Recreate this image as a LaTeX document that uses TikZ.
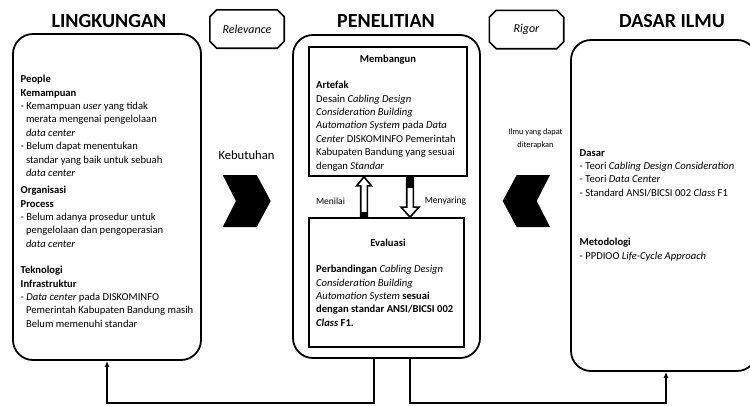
\documentclass[tikz,border=0pt]{standalone}
\usepackage{fontspec}
\setmainfont{Carlito}
\usetikzlibrary{arrows.meta,calc}

% continuation indent for bulleted lines
\newcommand{\ind}{\hspace*{5.3pt}}
% outline with cut corners around a named tag node
\newcommand{\cutframe}[2]{%
  \draw[tagline] ($(#1.north west)+(#2,0)$) -- ($(#1.north east)+(-#2,0)$)
    -- ($(#1.north east)+(0,#2)$) -- ($(#1.south east)+(0,-#2)$)
    -- ($(#1.south east)+(-#2,0)$) -- ($(#1.south west)+(#2,0)$)
    -- ($(#1.south west)+(0,-#2)$) -- ($(#1.north west)+(0,#2)$) -- cycle;}

\begin{document}
\begin{tikzpicture}[x=1pt,y=-1pt,
  box/.style={draw, line width=1.8pt, rounded corners=20pt, inner sep=0pt},
  inbox/.style={draw, line width=1.8pt, inner sep=0pt},
  tag/.style={inner sep=0pt, minimum width=74pt, minimum height=38pt,
    font=\fontsize{12}{14}\selectfont\itshape},
  tagline/.style={line width=1.6pt, line join=miter},
  title/.style={font=\fontsize{20}{24}\selectfont\bfseries, inner sep=0pt},
  body/.style={font=\fontsize{10.6}{13.4}\selectfont, align=left,
    anchor=north west, inner sep=0pt},
  head/.style={font=\fontsize{10.6}{13.4}\selectfont\bfseries, inner sep=0pt},
  lbl/.style={inner sep=0pt, align=center},
  conn/.style={line width=1.4pt},
  tip/.style={-{Latex[length=6pt,width=5pt]}},
  chev/.style={fill=black},
  hollow/.style={draw, line width=1.6pt, fill=white, line join=miter},
]
\useasboundingbox (0,0) rectangle (750,405);

% ---------- titles ----------
\node[title] (tl) at (109,21) {LINGKUNGAN};
\node[title] (tm) at (386,21) {PENELITIAN};
\node[title] (tr) at (672,21) {DASAR ILMU};

\node[tag] (rel) at (247,29) {Relevance};
\node[tag] (rig) at (526.5,29.5) {Rigor};
\cutframe{rel}{7}
\cutframe{rig}{7}

% ---------- main boxes ----------
\node[box, minimum width=188pt, minimum height=326pt] (lk) at (107,197) {};
\node[box, minimum width=187pt, minimum height=323pt] (pn) at (386.5,196.5) {};
\node[box, minimum width=186pt, minimum height=331pt] (di) at (664,205.5) {};

\node[inbox, minimum width=158pt, minimum height=129pt] (mb) at (388,111.5) {};
\node[inbox, minimum width=155pt, minimum height=129pt] (ev) at (386.5,282.5) {};

% ---------- left box text ----------
\node[body] (lk1) at (20.5,75) {\textbf{People}\\
\textbf{Kemampuan}\\
- Kemampuan \textit{user} yang tidak\\
\ind merata mengenai pengelolaan\\
\ind \textit{data center}\\
- Belum dapat menentukan\\
\ind standar yang baik untuk sebuah\\
\ind \textit{data center}};

\node[body] (lk2) at (20.5,186) {\textbf{Organisasi}\\
\textbf{Process}\\
- Belum adanya prosedur untuk\\
\ind pengelolaan dan pengoperasian\\
\ind \textit{data center}};

\node[body] (lk3) at (20.5,266) {\textbf{Teknologi}\\
\textbf{Infrastruktur}\\
- \textit{Data center} pada DISKOMINFO\\
\ind Pemerintah Kabupaten Bandung masih\\
\ind Belum memenuhi standar};

% ---------- middle box text ----------
\node[head] (mbt) at (388,60) {Membangun};
\node[body] (mbx) at (316,81) {\textbf{Artefak}\\
Desain \textit{Cabling Design}\\
\textit{Consideration Building}\\
\textit{Automation System} pada \textit{Data}\\
\textit{Center} DISKOMINFO Pemerintah\\
Kabupaten Bandung yang sesuai\\
dengan \textit{Standar}};

\node[head] (evt) at (388,243) {Evaluasi};
\node[body] (evx) at (316,265) {\textbf{Perbandingan} \textit{Cabling Design}\\
\textit{Consideration Building}\\
\textit{Automation System} \textbf{sesuai}\\
\textbf{dengan standar ANSI/BICSI 002}\\
\textbf{\textit{Class} F1.}};

% ---------- right box text ----------
\node[body] (di1) at (579.5,149) {\textbf{Dasar}\\
- Teori \textit{Cabling Design Consideration}\\
- Teori \textit{Data Center}\\
- Standard ANSI/BICSI 002 \textit{Class} F1};

\node[body] (di2) at (579.5,238) {\textbf{Metodologi}\\
- PPDIOO \textit{Life-Cycle Approach}};

% ---------- side labels ----------
\node[lbl, font=\fontsize{12.6}{15}\selectfont] (keb) at (246.5,155) {Kebutuhan};
\node[lbl, font=\fontsize{8.3}{12.5}\selectfont] (ilm) at (535.5,139) {Ilmu yang dapat\\diterapkan};
\node[lbl, font=\fontsize{9.5}{12}\selectfont] (mnl) at (330.5,201.5) {Menilai};
\node[lbl, font=\fontsize{9.5}{12}\selectfont] (mny) at (445.5,201.5) {Menyaring};

% ---------- chevrons ----------
\fill[chev] (222.7,175) -- (256.7,175) -- (270.7,201) -- (256.7,227)
  -- (222.7,227) -- (236,201) -- cycle;
\fill[chev] (550,175) -- (516.7,175) -- (502.7,201) -- (516.7,227)
  -- (550,227) -- (536.7,201) -- cycle;

% ---------- block arrows between the inner boxes ----------
\coordinate (ua) at (364,0);
\coordinate (da) at (410,0);
% upward arrow (Menilai)
\draw[hollow] (ua |- mb.south) -- ($(ua |- mb.south)+(7.5,9)$)
  -- ($(ua |- mb.south)+(3.3,9)$) -- ($(ua |- ev.north)+(3.3,0)$)
  -- ($(ua |- ev.north)+(-3.3,0)$) -- ($(ua |- mb.south)+(-3.3,9)$)
  -- ($(ua |- mb.south)+(-7.5,9)$) -- cycle;
\fill ($(ua |- ev.north)+(-4.1,-5)$) rectangle ($(ua |- ev.north)+(4.1,0)$);
% downward arrow (Menyaring)
\draw[hollow] (da |- ev.north) -- ($(da |- ev.north)+(9,-10)$)
  -- ($(da |- ev.north)+(3.3,-10)$) -- ($(da |- mb.south)+(3.3,0)$)
  -- ($(da |- mb.south)+(-3.3,0)$) -- ($(da |- ev.north)+(-3.3,-10)$)
  -- ($(da |- ev.north)+(-9,-10)$) -- cycle;
\fill ($(da |- mb.south)+(-4.1,0)$) rectangle ($(da |- mb.south)+(4.1,11)$);

% ---------- feedback connectors ----------
\coordinate (b1) at (374,403);
\coordinate (b2) at (410,403);
\coordinate (b3) at (666,403);
\draw[conn, tip] (b1 |- pn.south) -- (b1) -- (b1 -| lk.south) -- (lk.south);
\draw[conn, tip] (b2 |- pn.south) -- (b2) -- (b3) -- (b3 |- di.south);
\end{tikzpicture}
\end{document}
